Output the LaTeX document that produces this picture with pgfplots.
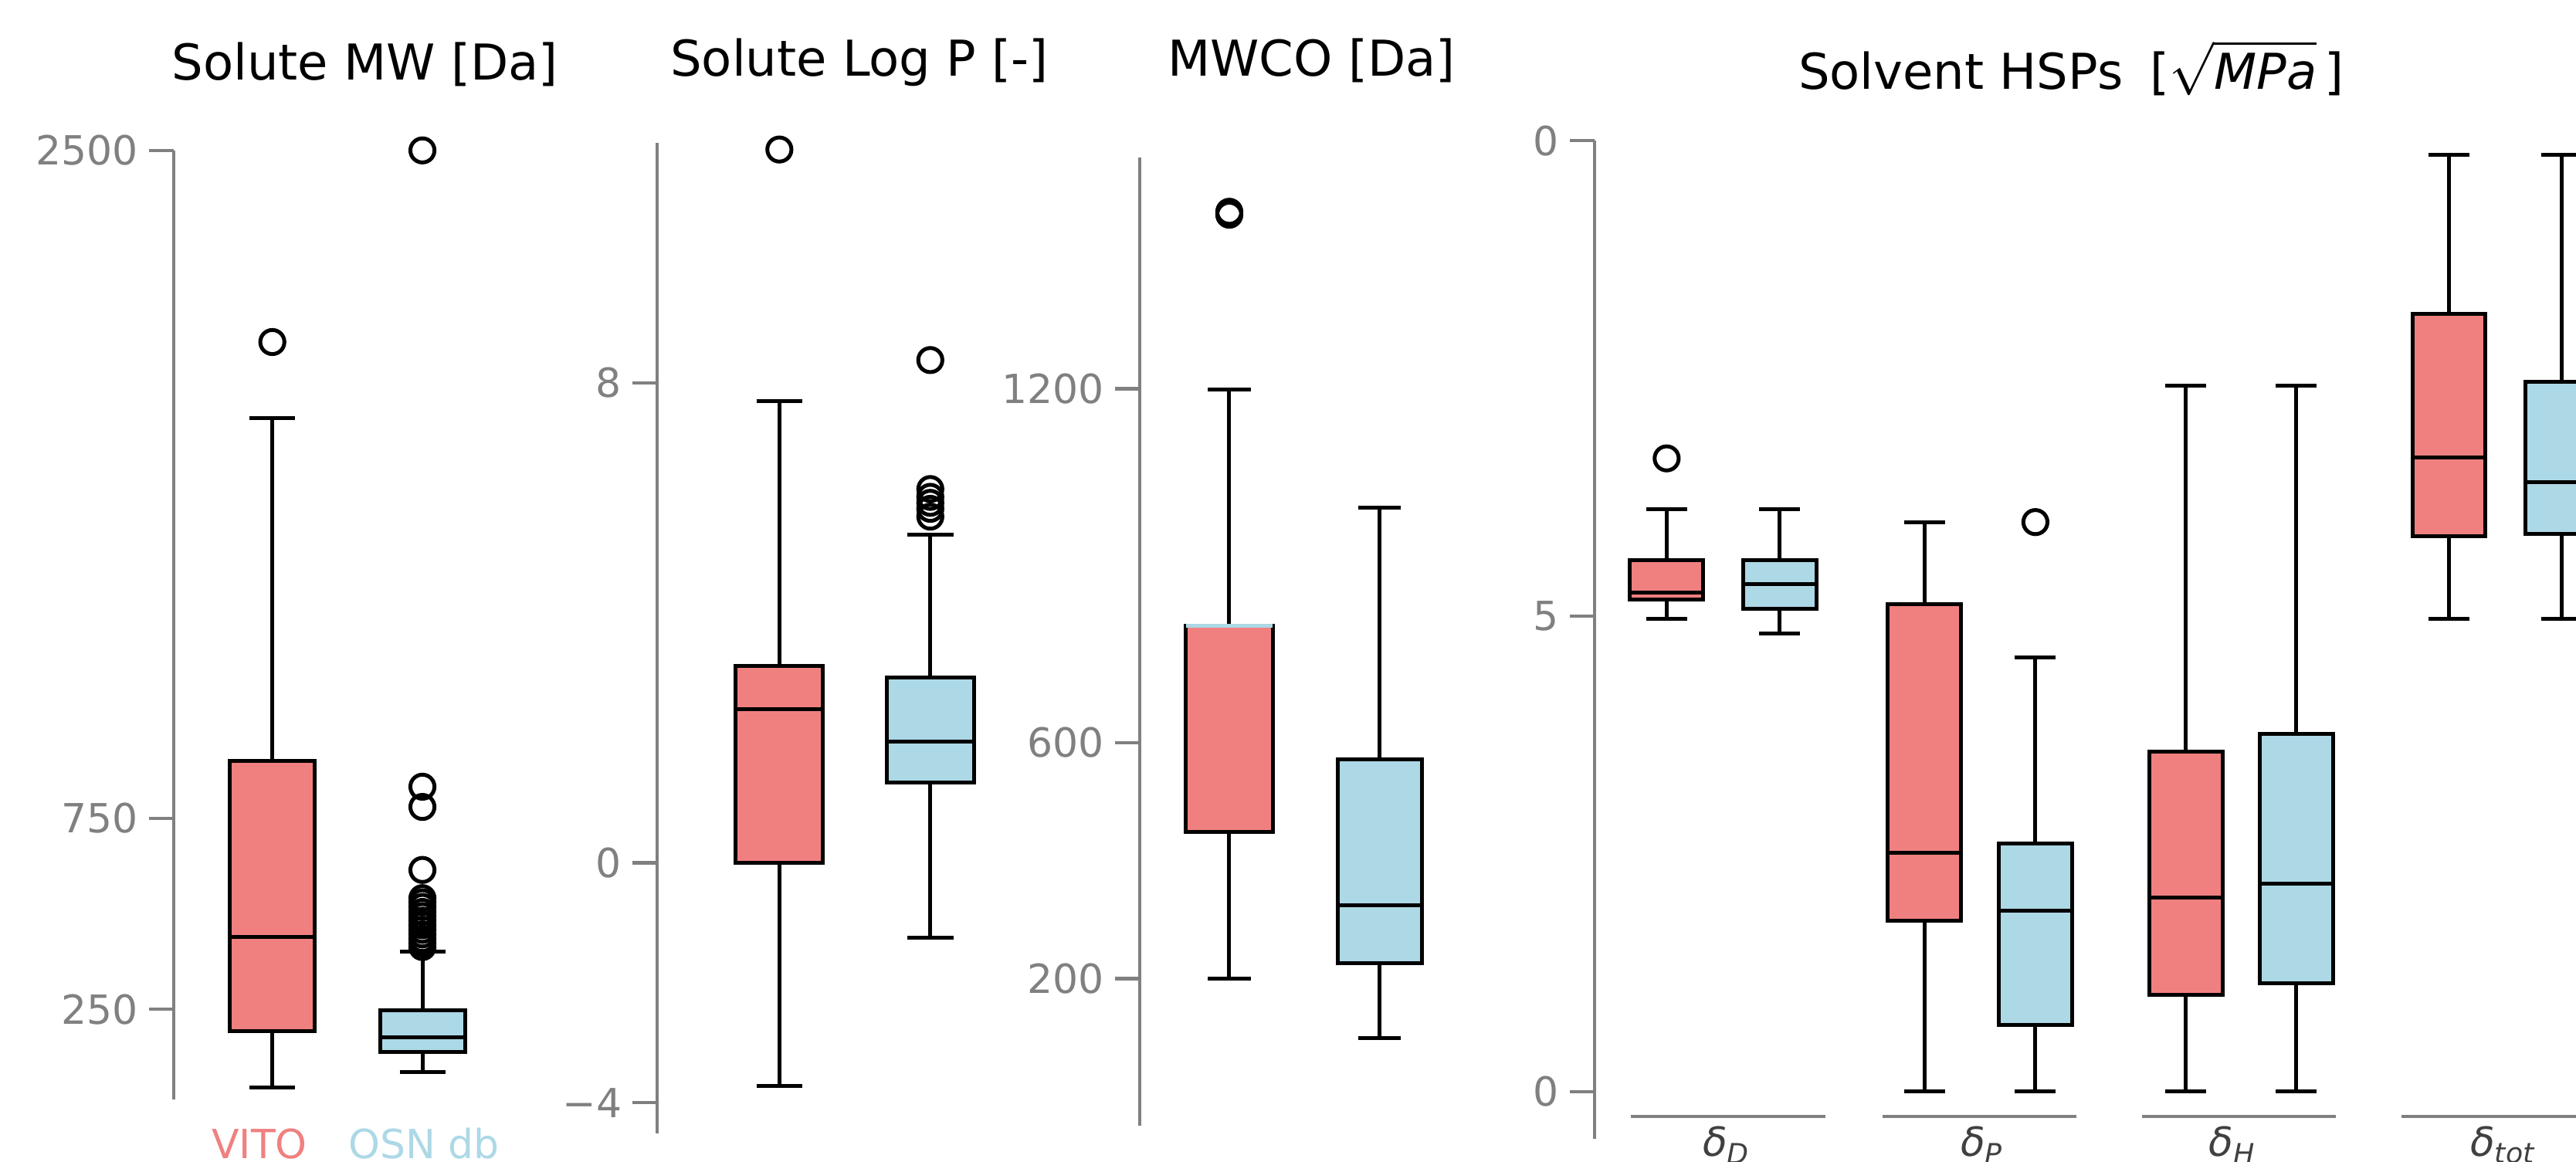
\documentclass[border=0pt]{standalone}
\usepackage{fontspec}
\setmainfont{DejaVu Sans}
\usepackage{pgfplots}
\pgfplotsset{compat=1.18}

\definecolor{vito}{HTML}{F08080}
\definecolor{osn}{HTML}{ADD8E6}
\definecolor{axgray}{HTML}{808080}
\definecolor{lblgray}{HTML}{404040}

\pgfplotsset{
  panel/.style={
    scale only axis, anchor=south west, clip=false,
    axis lines=left, hide x axis,
    axis line style={axgray, line width=1.1pt, -},
    tick align=outside, major tick length=8pt,
    ytick style={axgray, line width=1.1pt},
    yticklabel style={text=axgray, font=\fontsize{13}{15}\selectfont},
  },
  flier/.style={only marks, mark=o, mark size=3.9pt, black, line width=1.25pt},
}

\def\medcol{black}
% box: position, half box width, half cap width, low whisker, Q1, median, Q3, high whisker, fill
\newcommand{\bx}[9]{%
  \pgfmathsetmacro\xl{#1-#2}\pgfmathsetmacro\xr{#1+#2}%
  \pgfmathsetmacro\capL{#1-#3}\pgfmathsetmacro\capR{#1+#3}%
  \edef\temp{%
    \noexpand\addplot[draw=black, fill=#9, line width=1.25pt] coordinates {(\xl,#5)(\xr,#5)(\xr,#7)(\xl,#7)} --cycle;
    \noexpand\addplot[black, line width=1.25pt] coordinates {(#1,#5)(#1,#4)};
    \noexpand\addplot[black, line width=1.25pt] coordinates {(#1,#7)(#1,#8)};
    \noexpand\addplot[black, line width=1.25pt] coordinates {(\capL,#4)(\capR,#4)};
    \noexpand\addplot[black, line width=1.25pt] coordinates {(\capL,#8)(\capR,#8)};
    \noexpand\addplot[\medcol, line width=1.25pt] coordinates {(\xl,#6)(\xr,#6)};
  }\temp}

\begin{document}
\begin{tikzpicture}
\useasboundingbox (0,0) rectangle (834pt,376pt);
\clip (0,0) rectangle (834pt,376pt);

% Solute MW
\begin{axis}[panel, at={(56.25pt,20pt)}, width=123.75pt, height=307.3pt,
  xmin=0.343, xmax=2.89, ymin=13.6, ymax=2500,
  ytick={250,750,2500}, yticklabels={250,750,2500}]
\bx{1}{0.283}{0.152}{46}{192}{440}{900}{1798}{vito}
\addplot[flier] coordinates {(1,1998)};
\bx{2}{0.283}{0.152}{85}{139}{176}{248}{401}{osn}
\addplot[flier] coordinates {(2,2500)(2,833)(2,780)(2,615)(2,541)(2,530)(2,518)
  (2,505)(2,494)(2,482)(2,470)(2,458)(2,446)(2,434)(2,423)(2,413)};
\end{axis}

% Solute Log P
\begin{axis}[panel, at={(212.8pt,9.125pt)}, width=130.9pt, height=320.6pt,
  xmin=0.191, xmax=2.87, ymin=-4.506, ymax=12.0,
  ytick={-4,0,8}, yticklabels={−4,0,8}]
\bx{1}{0.289}{0.1525}{-3.72}{0}{2.556}{3.284}{7.70}{vito}
\addplot[flier] coordinates {(1,11.89)};
\bx{2}{0.289}{0.1525}{-1.25}{1.333}{2.025}{3.086}{5.47}{osn}
\addplot[flier] coordinates {(2,8.38)(2,6.23)(2,6.1)(2,6.0)(2,5.9)(2,5.77)};
\end{axis}

% MWCO
\begin{axis}[panel, at={(368.95pt,11.525pt)}, width=111.05pt, height=313.4pt,
  xmin=0.403, xmax=2.686, ymin=-49, ymax=1591.6,
  ytick={200,600,1200}, yticklabels={200,600,1200}]
\def\medcol{osn}
\bx{1}{0.288}{0.1435}{200}{449}{798}{798}{1199}{vito}
\def\medcol{black}
\addplot[flier] coordinates {(1,1500)(1,1495)};
\bx{2}{0.280}{0.1435}{99}{227}{325}{572}{998}{osn}
\end{axis}

% Solvent HSPs
\begin{axis}[panel, at={(516.2pt,7.25pt)}, width=308.5pt, height=323.2pt,
  xmin=0.506, xmax=4.16, ymin=-0.497, ymax=10,
  ytick={0,5,10}, yticklabels={0,5,0}]
\bx{0.783}{0.1405}{0.0785}{4.969}{5.171}{5.249}{5.592}{6.121}{vito}
\addplot[flier] coordinates {(0.783,6.659)};
\bx{1.216}{0.1405}{0.0785}{4.821}{5.078}{5.335}{5.592}{6.121}{osn}
\bx{1.771}{0.1405}{0.0785}{0}{1.799}{2.508}{5.124}{5.989}{vito}
\bx{2.197}{0.1405}{0.0785}{0}{0.701}{1.901}{2.609}{4.564}{osn}
\addplot[flier] coordinates {(2.197,5.989)};
\bx{2.774}{0.1405}{0.0785}{0}{1.021}{2.040}{3.575}{7.422}{vito}
\bx{3.198}{0.1405}{0.0785}{0}{1.138}{2.189}{3.762}{7.422}{osn}
\bx{3.783}{0.1405}{0.0785}{4.969}{5.841}{6.667}{8.177}{9.851}{vito}
\bx{4.216}{0.1405}{0.0785}{4.969}{5.865}{6.409}{7.461}{9.851}{osn}
\addplot[axgray, line width=0.85pt] coordinates {(0.645,-0.261)(1.393,-0.261)};
\addplot[axgray, line width=0.85pt] coordinates {(1.611,-0.261)(2.354,-0.261)};
\addplot[axgray, line width=0.85pt] coordinates {(2.606,-0.261)(3.350,-0.261)};
\addplot[axgray, line width=0.85pt] coordinates {(3.600,-0.261)(4.400,-0.261)};
\end{axis}

% titles
\begin{scope}[every node/.style={inner sep=0pt, font=\fontsize{16}{19}\selectfont}]
\node[anchor=base] at (118.15pt,350.1pt) {Solute MW [Da]};
\node[anchor=base] at (278.25pt,351.3pt) {Solute Log P [-]};
\node[anchor=base] at (424.6pt,351.3pt) {MWCO [Da]};
\node[anchor=base] at (670.6pt,347.25pt) {Solvent HSPs\hspace{0.55em}[$\sqrt{\mbox{\itshape MPa}}$\,]};
\end{scope}

% category labels
\begin{scope}[every node/.style={inner sep=0pt, font=\fontsize{13}{15}\selectfont}]
\node[anchor=base, text=vito] at (84pt,1pt) {VITO};
\node[anchor=base, text=osn] at (137.25pt,1pt) {OSN db};
\node[anchor=north, text=lblgray] at (559pt,11.5pt) {\textit{δ}\textsubscript{\textit{D}}};
\node[anchor=north, text=lblgray] at (641.75pt,11.5pt) {\textit{δ}\textsubscript{\textit{P}}};
\node[anchor=north, text=lblgray] at (722.75pt,11.5pt) {\textit{δ}\textsubscript{\textit{H}}};
\node[anchor=north, text=lblgray] at (810.5pt,11.5pt) {\textit{δ}\textsubscript{\textit{tot}}};
\end{scope}
\end{tikzpicture}
\end{document}
